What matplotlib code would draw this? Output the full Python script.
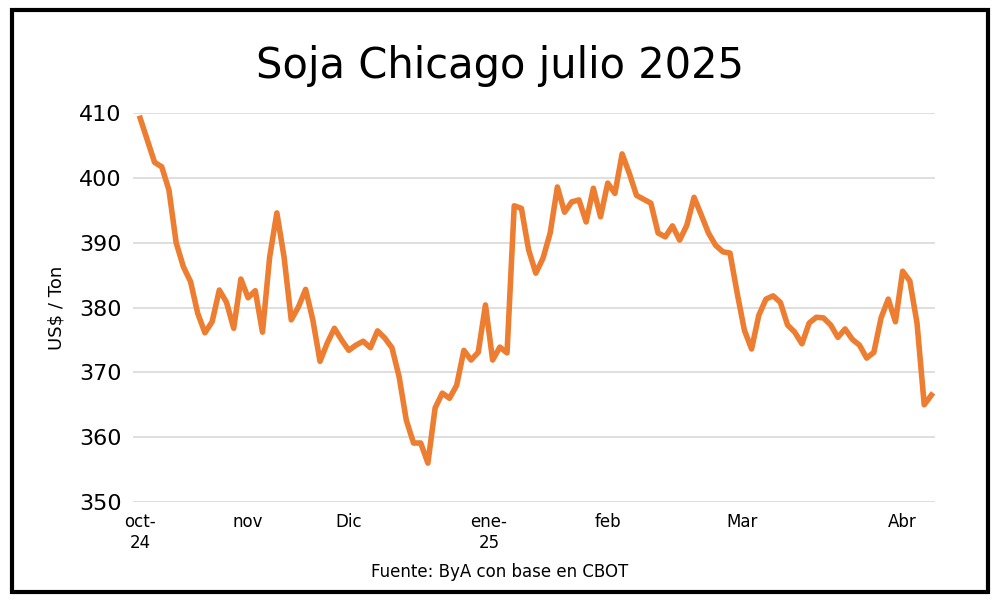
import matplotlib
matplotlib.use("Agg")
import matplotlib.pyplot as plt
from matplotlib.patches import Rectangle

values = [409.2, 405.8, 402.4, 401.7, 398.1, 390.0, 386.3, 384.0, 379.1, 376.1, 377.8, 382.7, 380.8, 376.8,
          384.4, 381.5, 382.6, 376.2, 387.8, 394.6, 387.8, 378.1, 380.1, 382.8, 378.1, 371.7, 374.5, 376.8,
          375.0, 373.4, 374.2, 374.8, 373.8, 376.4, 375.3, 373.8, 369.3,
          362.6, 359.1, 359.1, 356.0, 364.5, 366.8, 366.0, 368.0, 373.4, 371.9, 373.1, 380.4, 371.9, 373.9,
          373.0, 395.7, 395.3, 388.9, 385.3, 387.6, 391.5,
          398.6, 394.7, 396.3, 396.6, 393.2, 398.4, 394.0, 399.2, 397.6, 403.7, 400.7, 397.3, 396.7, 396.1,
          391.5, 390.9, 392.6, 390.4, 392.7, 397.0, 394.3, 391.5, 389.6, 388.6, 388.4, 382.2, 376.5, 373.6,
          378.8, 381.3, 381.8, 380.8, 377.3, 376.2, 374.4, 377.6, 378.5, 378.4, 377.3, 375.4, 376.7, 375.1,
          374.2, 372.2, 373.1, 378.4, 381.3, 377.8, 385.6, 384.1, 377.6, 365.0, 366.5]
tick_pos = [0, 15, 29, 48.5, 65, 83.7, 106]
tick_labels = ["oct-\n24", "nov", "Dic", "ene-\n25", "feb", "Mar", "Abr"]
yticks = [350, 360, 370, 380, 390, 400, 410]

fig = plt.figure(figsize=(10, 6.03), dpi=100)
fig.patches.append(Rectangle((0.012, 0.018), 0.976, 0.965, transform=fig.transFigure,
                             fill=False, edgecolor="black", linewidth=3))
ax = fig.add_axes([0.133, 0.1675, 0.802, 0.645])
ax.plot(range(len(values)), values, color="#ED7D31", linewidth=4, solid_joinstyle="round")
ax.set_ylim(350, 410)
ax.set_xlim(-1, len(values) - 0.5)
ax.set_yticks(yticks)
ax.set_yticklabels([str(v) for v in yticks], fontsize=16)
ax.set_xticks(tick_pos)
ax.set_xticklabels(tick_labels, fontsize=12, va="top", ha="center")
ax.tick_params(length=0, pad=8)
ax.grid(axis="y", color="#D9D9D9", linewidth=1.2)
for s in ax.spines.values():
    s.set_visible(False)
ax.set_axisbelow(True)
ax.set_ylabel("US$ / Ton", fontsize=13, labelpad=10)
fig.text(0.5, 0.89, "Soja Chicago julio 2025", ha="center", va="center", fontsize=30)
fig.text(0.5, 0.052, "Fuente: ByA con base en CBOT", ha="center", va="center", fontsize=12)
fig.savefig("out.png", dpi=100)
